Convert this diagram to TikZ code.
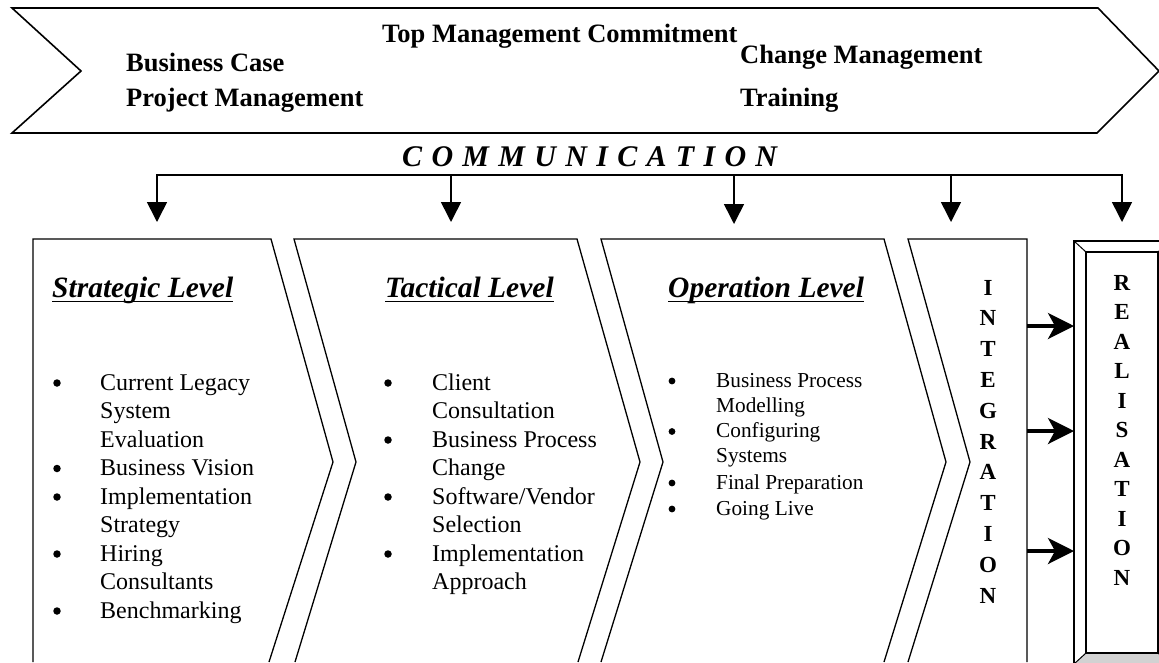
\documentclass[tikz,border=0pt]{standalone}
\usepackage{fontspec}
\setmainfont{Liberation Serif}
\usetikzlibrary{arrows.meta}
\begin{document}
\begin{tikzpicture}[x=1pt,y=-1pt,
  outline/.style={line width=1.6pt, line join=miter},
  boxline/.style={line width=1.3pt, line join=miter},
  topt/.style={font=\fontsize{26.5}{30}\selectfont\bfseries, anchor=base west, inner sep=0pt},
  headt/.style={font=\fontsize{29.5}{34}\selectfont\bfseries\itshape, anchor=base west, inner sep=0pt},
  item/.style={font=\fontsize{24}{28}\selectfont, anchor=base west, inner sep=0pt},
  itemsm/.style={font=\fontsize{21.3}{25}\selectfont, anchor=base west, inner sep=0pt},
  bul/.style={circle, fill, inner sep=0pt, minimum size=7.5pt},
  bulsm/.style={circle, fill, inner sep=0pt, minimum size=6.8pt},
  vlet/.style={font=\fontsize{23}{26}\selectfont\bfseries, anchor=base, inner sep=0pt},
  drop/.style={line width=1.6pt, -{Triangle[length=20pt,width=20pt]}},
  feed/.style={line width=3.6pt, -{Stealth[length=26pt,width=26pt,inset=7pt]}},
  uline/.style={line width=1.6pt}
]
\useasboundingbox (0,0) rectangle (1159,662);
\clip (0,0) rectangle (1159,662);

% ---- banner of critical success factors ----
\draw[outline] (12,8) -- (1098,8) -- (1159,71) -- (1097,133) -- (12,133) -- (81,71) -- cycle;
\node[topt] (tmc) at (382,42) {Top Management Commitment};
\node[topt] (bc)  at (126,71) {Business Case};
\node[topt] (pm)  at (126,106) {Project Management};
\node[topt] (cm)  at (740,63) {Change Management};
\node[topt] (tr)  at (740,106) {Training};

% ---- communication bus ----
\node[font=\fontsize{30}{34}\selectfont\bfseries\itshape, anchor=base west, inner sep=0pt]
  (comm) at (402,166)
  {C\kern9.3pt O\kern9.3pt M\kern9.3pt M\kern9.3pt U\kern9.3pt N\kern9.3pt I\kern9.3pt C\kern9.3pt A\kern9.3pt T\kern9.3pt I\kern9.3pt O\kern9.3pt N};

\coordinate (d1) at (157,175);  \coordinate (t1) at (157,222);
\coordinate (d2) at (451,175);  \coordinate (t2) at (451,222);
\coordinate (d3) at (734,175);  \coordinate (t3) at (734,224);
\coordinate (d4) at (951,175);  \coordinate (t4) at (951,222);
\coordinate (d5) at (1122,175); \coordinate (t5) at (1122,222);
\draw[line width=1.8pt, line cap=rect] (d1) -- (d5);
\foreach \i in {1,...,5} { \draw[drop] (d\i) -- (t\i); }

% ---- phase chevrons ----
\draw[boxline] (33,662) -- (33,239) -- (271,239) -- (333,462) -- (269,662);
\draw[boxline] (295,662) -- (356,462) -- (294,239) -- (577,239) -- (640,462) -- (578,662);
\draw[boxline] (601,662) -- (663,462) -- (601,239) -- (884,239) -- (946,462) -- (884,662);
\draw[boxline] (908,662) -- (970,462) -- (908,239) -- (1027,239) -- (1027,662);

% headings
\node[headt] (h1) at (52,297) {Strategic Level};
\node[headt] (h2) at (385,297) {Tactical Level};
\node[headt] (h3) at (668,297) {Operation Level};
\foreach \h in {h1,h2,h3} {
  \draw[uline] ([yshift=-4.5pt]\h.base west) -- ([yshift=-4.5pt]\h.base east);
}

% strategic level items
\foreach \t [count=\i from 0] in {Current Legacy, System, Evaluation, Business Vision,
    Implementation, Strategy, Hiring, Consultants, Benchmarking}
  { \node[item] (s\i) at (100,{390+28.5*\i}) {\t}; }
\foreach \i in {0,3,4,6,8}
  { \node[bul] (sb\i) at (57,{383+28.5*\i}) {}; }

% tactical level items
\foreach \t [count=\i from 0] in {Client, Consultation, Business Process, Change,
    Software/Vendor, Selection, Implementation, Approach}
  { \node[item] (c\i) at (432,{390+28.5*\i}) {\t}; }
\foreach \i in {0,2,4,6}
  { \node[bul] (cb\i) at (388,{383+28.5*\i}) {}; }

% operation level items
\node[itemsm] (o0) at (716,387)   {Business Process};
\node[itemsm] (o1) at (716,412)   {Modelling};
\node[itemsm] (o2) at (716,437.5) {Configuring};
\node[itemsm] (o3) at (716,462.5) {Systems};
\node[itemsm] (o4) at (716,489)   {Final Preparation};
\node[itemsm] (o5) at (716,515)   {Going Live};
\node[bulsm] (ob0) at (672,381)   {};
\node[bulsm] (ob2) at (672,431.5) {};
\node[bulsm] (ob4) at (672,483)   {};
\node[bulsm] (ob5) at (672,509)   {};

% integration, written downwards
\foreach \l [count=\i from 0] in {I,N,T,E,G,R,A,T,I,O,N}
  { \node[vlet] (ig\i) at (988,{295+30.8*\i}) {\l}; }

% ---- realisation: bevelled frame ----
\fill[gray!35] (1086,653) -- (1158,653) -- (1170,664) -- (1074,664) -- cycle;
\fill[gray!35] (1158,252) -- (1170,241) -- (1170,664) -- (1158,653) -- cycle;
\draw[boxline] (1074,241) rectangle (1170,664);
\draw[boxline] (1086,252) rectangle (1158,653);
\draw[line width=1pt] (1074,241) -- (1086,252) (1170,241) -- (1158,252)
  (1074,664) -- (1086,653) (1170,664) -- (1158,653);
\foreach \l [count=\i from 0] in {R,E,A,L,I,S,A,T,I,O,N}
  { \node[vlet] (rl\i) at (1122,{290+29.5*\i}) {\l}; }

% integration feeds realisation
\coordinate (ia) at (1027,326); \coordinate (ra) at (1074,326);
\coordinate (ib) at (1027,431); \coordinate (rb) at (1074,431);
\coordinate (ic) at (1027,551); \coordinate (rc) at (1074,551);
\draw[feed] (ia) -- (ra);
\draw[feed] (ib) -- (rb);
\draw[feed] (ic) -- (rc);
\end{tikzpicture}
\end{document}
